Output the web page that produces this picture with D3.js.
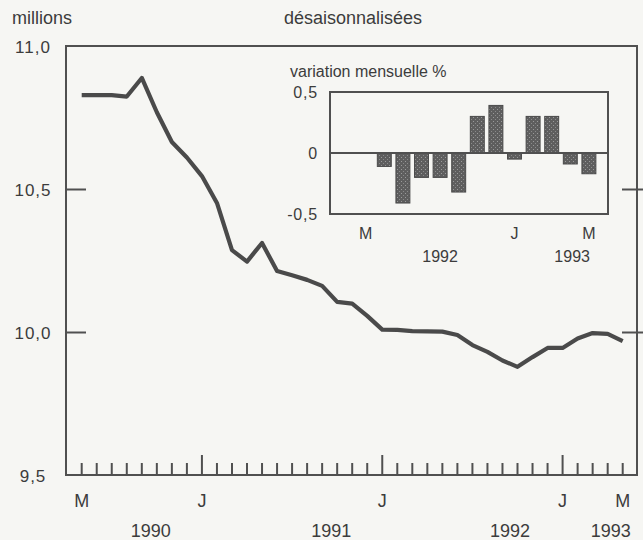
<!DOCTYPE html>
<html><head><meta charset="utf-8">
<script src="https://cdn.jsdelivr.net/npm/d3@7"></script>
<style>
html,body{margin:0;padding:0;background:#f6f6f3;}
svg{display:block;}
text{font-family:"Liberation Sans",Arial,Helvetica,sans-serif;fill:#3c3c3c;}
</style></head>
<body>
<script>
// ---- Data ----
// Monthly index: 0 = May 1990 ... 36 = May 1993
const monthIndex = d3.range(0, 37);
const employment = [
  10.83, 10.83, 10.83, 10.825, 10.89, 10.77, 10.666, 10.612, 10.547, 10.453,
  10.288, 10.248, 10.313, 10.215, 10.20, 10.184, 10.163, 10.107, 10.101, 10.058,
  10.01, 10.009, 10.005, 10.004, 10.003, 9.991, 9.956, 9.932, 9.902, 9.88,
  9.914, 9.946, 9.946, 9.979, 9.998, 9.995, 9.97
];
const yTicks = [9.5, 10.0, 10.5, 11.0];
const yTickLabels = ["9,5", "10,0", "10,5", "11,0"];
const xMonthTickIdx = [0, 8, 20, 32, 36];
const xMonthTickLabels = ["M", "J", "J", "J", "M"];
const yearLabels = ["1990", "1991", "1992", "1993"];
const yearLabelPos = [4.6, 16.6, 28.5, 35.2];

// Inset: monthly change %, May 1992 ... May 1993
const insetMonths = ["1992-05","1992-06","1992-07","1992-08","1992-09","1992-10","1992-11","1992-12","1993-01","1993-02","1993-03","1993-04","1993-05"];
const insetChange = [null, -0.11, -0.41, -0.2, -0.2, -0.32, 0.3, 0.39, -0.05, 0.3, 0.3, -0.09, -0.17];
const insetYTicks = [-0.5, 0, 0.5];
const insetYTickLabels = ["-0,5", "0", "0,5"];
const insetMonthTickIdx = [0, 8, 12];
const insetMonthTickLabels = ["M", "J", "M"];
const insetYearLabels = ["1992", "1993"];
const insetYearPos = [4.0, 11.1];

// ---- Layout ----
const W = 643, H = 540;
const svg = d3.select("body").append("svg").attr("width", W).attr("height", H);
svg.append("rect").attr("width", W).attr("height", H).attr("fill", "#f6f6f3");

const ink = "#505050";
const frame = {x0: 66, x1: 637, y0: 46, y1: 475};

const x = d3.scaleLinear().domain([0, 36]).range([81.7, 622.7]);
const y = d3.scaleLinear().domain([9.5, 11.0]).range([475.5, 46.5]);

// patterns
const defs = svg.append("defs");
const pat = defs.append("pattern").attr("id", "dots").attr("patternUnits", "userSpaceOnUse")
  .attr("width", 4).attr("height", 4);
pat.append("rect").attr("width", 4).attr("height", 4).attr("fill", "#5e5e5e");
pat.append("rect").attr("x", 1).attr("y", 1).attr("width", 1).attr("height", 1).attr("fill", "#9a9a9a");
pat.append("rect").attr("x", 3).attr("y", 3).attr("width", 1).attr("height", 1).attr("fill", "#8a8a8a");

// frame
svg.append("rect").attr("x", frame.x0).attr("y", frame.y0)
  .attr("width", frame.x1 - frame.x0).attr("height", frame.y1 - frame.y0)
  .attr("fill", "none").attr("stroke", ink).attr("stroke-width", 2);

// y ticks (inner on left, crossing on right)
const midTicks = yTicks.filter(v => v > 9.5 && v < 11.0);
svg.selectAll(".ytl").data(midTicks).join("line")
  .attr("x1", frame.x0).attr("x2", frame.x0 + 20)
  .attr("y1", d => y(d)).attr("y2", d => y(d))
  .attr("stroke", ink).attr("stroke-width", 2);
svg.selectAll(".ytr").data(midTicks).join("line")
  .attr("x1", frame.x1 - 15).attr("x2", W)
  .attr("y1", d => y(d)).attr("y2", d => y(d))
  .attr("stroke", ink).attr("stroke-width", 2);

// y labels
svg.selectAll(".ylab").data(yTicks).join("text")
  .attr("x", 33).attr("y", d => y(d) + 6)
  .attr("text-anchor", "middle").attr("font-size", 17).attr("letter-spacing", 1)
  .text((d, i) => yTickLabels[i]);

// x month ticks
svg.selectAll(".xt").data(monthIndex).join("line")
  .attr("x1", d => x(d)).attr("x2", d => x(d))
  .attr("y1", frame.y1).attr("y2", d => xMonthTickIdx.slice(1, 4).includes(d) ? frame.y1 - 20 : frame.y1 - 12)
  .attr("stroke", ink).attr("stroke-width", 2);

svg.selectAll(".xml").data(xMonthTickIdx).join("text")
  .attr("x", d => x(d)).attr("y", 507)
  .attr("text-anchor", "middle").attr("font-size", 18)
  .text((d, i) => xMonthTickLabels[i]);
svg.selectAll(".xyl").data(yearLabelPos).join("text")
  .attr("x", d => x(d)).attr("y", 537)
  .attr("text-anchor", "middle").attr("font-size", 18)
  .text((d, i) => yearLabels[i]);

// titles
svg.append("text").attr("x", 12).attr("y", 24).attr("font-size", 18).text("millions");
svg.append("text").attr("x", 284).attr("y", 24).attr("font-size", 18).text("désaisonnalisées");

// main line
const line = d3.line().x((d, i) => x(monthIndex[i])).y(d => y(d));
svg.append("path").datum(employment).attr("d", line)
  .attr("fill", "none").attr("stroke", "#4a4a4a").attr("stroke-width", 4.2)
  .attr("stroke-linejoin", "round").attr("stroke-linecap", "butt");

// ---- Inset ----
const ib = {x0: 330, x1: 608, y0: 92, y1: 214};
const ix = d3.scaleBand().domain(insetMonths).range([356.4, 598.2]).paddingInner(0.25).paddingOuter(0.125);
const iy = d3.scaleLinear().domain([-0.5, 0.5]).range([ib.y1, ib.y0]);
const ixc = i => ix(insetMonths[0]) + ix.step() * i + ix.bandwidth() / 2;

svg.append("rect").attr("x", ib.x0).attr("y", ib.y0)
  .attr("width", ib.x1 - ib.x0).attr("height", ib.y1 - ib.y0)
  .attr("fill", "none").attr("stroke", ink).attr("stroke-width", 2);

const barData = insetMonths.map((m, i) => ({m, v: insetChange[i]})).filter(d => d.v !== null);
svg.selectAll(".bar").data(barData).join("rect")
  .attr("x", d => ix(d.m)).attr("width", ix.bandwidth())
  .attr("y", d => iy(Math.max(0, d.v))).attr("height", d => Math.abs(iy(d.v) - iy(0)))
  .attr("fill", "url(#dots)").attr("stroke", "#4a4a4a").attr("stroke-width", 1);

svg.append("line").attr("x1", ib.x0).attr("x2", ib.x1).attr("y1", iy(0)).attr("y2", iy(0))
  .attr("stroke", ink).attr("stroke-width", 2);

svg.selectAll(".iyl").data(insetYTicks).join("text")
  .attr("x", 318).attr("y", d => iy(d) + 6)
  .attr("text-anchor", "end").attr("font-size", 16).attr("letter-spacing", 0.8)
  .text((d, i) => insetYTickLabels[i]);

svg.selectAll(".ixl").data(insetMonthTickIdx).join("text")
  .attr("x", d => ixc(d)).attr("y", 239)
  .attr("text-anchor", "middle").attr("font-size", 16)
  .text((d, i) => insetMonthTickLabels[i]);
svg.selectAll(".iyrl").data(insetYearPos).join("text")
  .attr("x", d => ixc(d)).attr("y", 262)
  .attr("text-anchor", "middle").attr("font-size", 16)
  .text((d, i) => insetYearLabels[i]);

svg.append("text").attr("x", 290).attr("y", 77).attr("font-size", 16).text("variation mensuelle %");
</script>
</body></html>
